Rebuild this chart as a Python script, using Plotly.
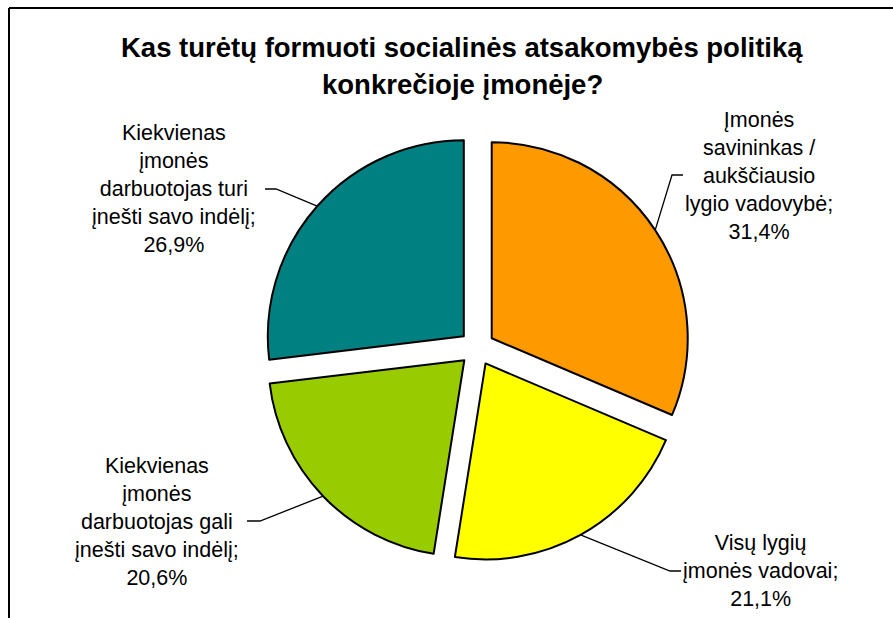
import math
import plotly.graph_objects as go

# --- data -------------------------------------------------------------
categories = [
    "Įmonės savininkas / aukščiausio lygio vadovybė",
    "Visų lygių įmonės vadovai",
    "Kiekvienas įmonės darbuotojas gali įnešti savo indėlį",
    "Kiekvienas įmonės darbuotojas turi įnešti savo indėlį",
]
shares = [31.4, 21.1, 20.6, 26.9]
label_texts = [
    "Įmonės<br>savininkas /<br>aukščiausio<br>lygio vadovybė;<br>31,4%",
    "Visų lygių<br>įmonės vadovai;<br>21,1%",
    "Kiekvienas<br>įmonės<br>darbuotojas gali<br>įnešti savo indėlį;<br>20,6%",
    "Kiekvienas<br>įmonės<br>darbuotojas turi<br>įnešti savo indėlį;<br>26,9%",
]
colors = ["#FF9900", "#FFFF00", "#99CC00", "#008080"]
title_lines = [
    "Kas turėtų formuoti socialinės atsakomybės politiką",
    "konkrečioje įmonėje?",
]

# --- layout constants (pixels) ------------------------------------------
W, H = 893, 618
PIE_CX, PIE_CY = 477, 348      # centre of the unexploded pie
PIE_R = 196                    # slice radius
PULL = 0.09                    # explode fraction

# label centres and leader-line stubs (start, elbow) in pixels
label_pos = [(759, 176), (760, 571), (157, 522), (174, 189)]
stubs = [
    ((683, 175), (672, 175)),
    ((681, 571), (670, 571)),
    ((247, 521), (260, 521)),
    ((265, 189), (276, 189)),
]

FONT = "Arial, 'Liberation Sans', sans-serif"


def px(x):
    return x / W


def py(y):
    return 1 - y / H


half = PIE_R * (1 + PULL)
domain_x = [px(PIE_CX - half), px(PIE_CX + half)]
domain_y = [py(PIE_CY + half), py(PIE_CY - half)]

fig = go.Figure(
    go.Pie(
        labels=categories,
        values=shares,
        sort=False,
        direction="clockwise",
        rotation=0,
        pull=[PULL] * len(shares),
        marker=dict(colors=colors, line=dict(color="black", width=2)),
        textinfo="none",
        hoverinfo="label+percent",
        showlegend=False,
        domain=dict(x=domain_x, y=domain_y),
    )
)

# leader lines: stub -> elbow -> point on the slice rim at its mid angle
total = sum(shares)
cum = 0.0
shapes = []
for i, v in enumerate(shares):
    mid = (cum + v / 2) / total * 2 * math.pi
    cum += v
    dx, dy = math.sin(mid), -math.cos(mid)
    ax = PIE_CX + PULL * PIE_R * dx
    ay = PIE_CY + PULL * PIE_R * dy
    ex, ey = ax + PIE_R * dx, ay + PIE_R * dy
    (sx, sy), (kx, ky) = stubs[i]
    path = f"M {px(sx)} {py(sy)} L {px(kx)} {py(ky)} L {px(ex)} {py(ey)}"
    shapes.append(dict(type="path", xref="paper", yref="paper", path=path,
                       line=dict(color="black", width=1.3)))

# chart frame (open to the right and bottom)
shapes.append(dict(type="line", xref="paper", yref="paper",
                   x0=px(9), y0=py(8), x1=px(W + 5), y1=py(8),
                   line=dict(color="black", width=2)))
shapes.append(dict(type="line", xref="paper", yref="paper",
                   x0=px(9), y0=py(8), x1=px(9), y1=py(H + 5),
                   line=dict(color="black", width=2)))

annotations = []
for (lx, ly), txt in zip(label_pos, label_texts):
    annotations.append(dict(
        x=px(lx), y=py(ly), xref="paper", yref="paper", text=txt,
        showarrow=False, xanchor="center", yanchor="middle", align="center",
        font=dict(family=FONT, size=21.5, color="black"),
    ))
for t, ty in zip(title_lines, [47, 85]):
    annotations.append(dict(
        x=px(462), y=py(ty), xref="paper", yref="paper", text=f"<b>{t}</b>",
        showarrow=False, xanchor="center", yanchor="middle",
        font=dict(family=FONT, size=27.5, color="black"),
    ))

fig.update_layout(
    width=W, height=H,
    margin=dict(l=0, r=0, t=0, b=0),
    paper_bgcolor="white",
    plot_bgcolor="white",
    shapes=shapes,
    annotations=annotations,
)

fig.write_html("out.html")
